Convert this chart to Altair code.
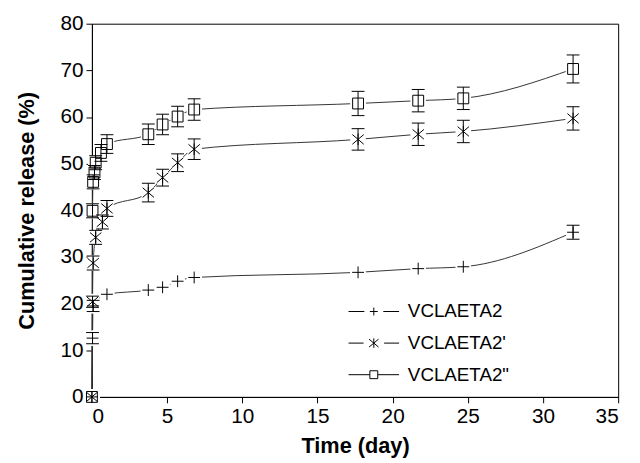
import altair as alt
import pandas as pd

series_names = ["VCLAETA2", "VCLAETA2'", 'VCLAETA2"']

# VCLAETA2  (+)
t_a = [0, 0.04, 0.08, 1.0, 3.75, 4.7, 5.7, 6.8, 17.7, 21.7, 24.7, 32]
v_a = [0, 12.6, 19.5, 22.0, 22.9, 23.5, 24.8, 25.6, 26.7, 27.5, 27.9, 35.3]
e_a = [0, 1.2, 1.2, 0.3, 0.3, 0.3, 0.3, 0.3, 0.4, 0.4, 0.4, 1.5]

# VCLAETA2'  (asterisk)
t_b = [0, 0.04, 0.08, 0.25, 0.7, 1.0, 3.75, 4.7, 5.7, 6.8, 17.7, 21.7, 24.7, 32]
v_b = [0, 20.4, 28.7, 34.2, 37.5, 40.4, 43.8, 47.0, 50.2, 53.1, 55.2, 56.3, 56.9, 59.7]
e_b = [0, 1.2, 1.5, 1.5, 1.5, 1.7, 2.0, 1.8, 1.9, 2.2, 2.3, 2.4, 2.4, 2.5]

# VCLAETA2"  (square)
t_c = [0, 0.04, 0.08, 0.17, 0.25, 0.6, 1.0, 3.75, 4.7, 5.7, 6.8, 17.7, 21.7, 24.7, 32]
v_c = [0, 39.9, 46.1, 48.1, 50.2, 52.3, 54.2, 56.3, 58.4, 60.1, 61.6, 62.9, 63.5, 64.0, 70.3]
e_c = [0, 1.5, 1.5, 1.5, 1.5, 1.8, 2.0, 2.2, 2.2, 2.2, 2.3, 2.6, 2.4, 2.4, 3.0]

x_ticks = [0, 5, 10, 15, 20, 25, 30, 35]
y_ticks = [0, 10, 20, 30, 40, 50, 60, 70, 80]

rows = []
for name, ts, vs, es in zip(series_names, [t_a, t_b, t_c], [v_a, v_b, v_c], [e_a, e_b, e_c]):
    for t, v, e in zip(ts, vs, es):
        rows.append({"series": name, "t": t, "v": v, "lo": v - e, "hi": v + e, "err": e})
df = pd.DataFrame(rows)

FONT = "Liberation Sans"

x_axis = alt.Axis(values=x_ticks, title="Time (day)", titleX=266.5, titleY=49,
                  titleBaseline="middle", titleAlign="center")
y_axis = alt.Axis(values=y_ticks, title="Cumulative release (%)", titleX=-66, titleY=189,
                  titleBaseline="middle", titleAlign="center", titleAngle=270)
x_scale = alt.Scale(domain=[0, 35], nice=False, zero=False)
y_scale = alt.Scale(domain=[0, 80], nice=False, zero=False)


def X(field="t"):
    return alt.X(f"{field}:Q", scale=x_scale, axis=x_axis)


def Y(field="v"):
    return alt.Y(f"{field}:Q", scale=y_scale, axis=y_axis)


plus_path = "M-1,0H1M0,-1V1"
star_path = "M-1,-0.85L1,0.85M-1,0.85L1,-0.85M0,-1V1"
square_path = "M-1,-1H1V1H-1Z"
cap_path = "M-1,0H1"

leg_plus = "M-6.4,0H-2.4M-1,0H1M0,-1V1M2.4,0H6.4"
leg_star = "M-6.4,0H-2.6M-1.2,-1L1.2,1M-1.2,1L1.2,-1M0,-1.2V1.2M2.6,0H6.4"
leg_square = "M-6.4,0H-1M-1,-1H1V1H-1ZM1,0H6.4"

base = alt.Chart(df)

lines = base.mark_line(color="#333333", strokeWidth=1, interpolate="monotone").encode(
    x=X(), y=Y(), detail="series:N"
)

halo = base.mark_point(shape="circle", filled=True, color="white", opacity=1, size=256).encode(
    x=X(), y=Y()
)

err = base.transform_filter("datum.err > 0.5")

err_rule = err.mark_rule(color="black", strokeWidth=1).encode(
    x=X(), y=Y("lo"), y2="hi:Q"
)
cap_hi = err.mark_point(shape=cap_path, filled=False, color="black", strokeWidth=1,
                        opacity=1, size=169).encode(x=X(), y=Y("hi"))
cap_lo = err.mark_point(shape=cap_path, filled=False, color="black", strokeWidth=1,
                        opacity=1, size=169).encode(x=X(), y=Y("lo"))

markers = base.mark_point(filled=False, color="black", strokeWidth=1, opacity=1).encode(
    x=X(), y=Y(),
    shape=alt.Shape("series:N", scale=alt.Scale(domain=series_names,
                                                range=[plus_path, star_path, square_path]),
                    legend=None),
    size=alt.Size("series:N", scale=alt.Scale(domain=series_names, range=[144, 121, 81]),
                  legend=None),
)

legend_layer = base.transform_filter("false").mark_point(
    filled=False, color="black", strokeWidth=1, opacity=1
).encode(
    x=X(), y=Y(),
    shape=alt.Shape("series:N",
                    scale=alt.Scale(domain=series_names, range=[leg_plus, leg_star, leg_square]),
                    legend=alt.Legend(title=None, orient="none", legendX=276, legendY=282,
                                      symbolSize=64, symbolStrokeWidth=1,
                                      symbolStrokeColor="black",
                                      labelFont=FONT, labelFontSize=19, labelColor="black",
                                      labelOffset=25, rowPadding=12, padding=0)),
)

chart = alt.layer(lines, halo, err_rule, cap_hi, cap_lo, markers, legend_layer).resolve_scale(
    shape="independent", size="independent"
).resolve_legend(shape="independent").properties(
    width=533, height=378,
    autosize=alt.AutoSizeParams(type="none"),
    padding={"left": 85, "top": 13, "right": 14, "bottom": 62},
).configure_view(
    stroke="black", strokeWidth=1
).configure_axis(
    grid=False, domainColor="black", domainWidth=1, tickColor="black", tickWidth=1,
    tickSize=6, labelColor="black", titleColor="black", labelFont=FONT, titleFont=FONT,
    labelFontSize=21, titleFontSize=22, titleFontWeight="bold", labelPadding=3
)

chart.save("out.html", embed_options={"renderer": "svg", "actions": False})
